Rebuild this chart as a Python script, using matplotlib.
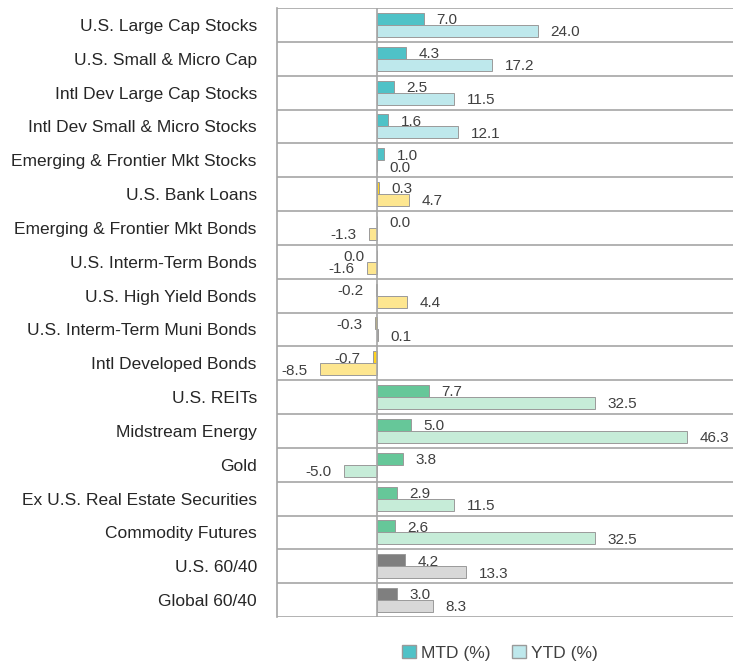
import numpy as np
import matplotlib
matplotlib.use("Agg")
import matplotlib.pyplot as plt
from matplotlib.patches import Patch

plt.rcParams['font.family'] = ['Liberation Sans', 'DejaVu Sans']

categories = [
    "U.S. Large Cap Stocks", "U.S. Small & Micro Cap", "Intl Dev Large Cap Stocks",
    "Intl Dev Small & Micro Stocks", "Emerging & Frontier Mkt Stocks", "U.S. Bank Loans",
    "Emerging & Frontier Mkt Bonds", "U.S. Interm-Term Bonds", "U.S. High Yield Bonds",
    "U.S. Interm-Term Muni Bonds", "Intl Developed Bonds", "U.S. REITs", "Midstream Energy",
    "Gold", "Ex U.S. Real Estate Securities", "Commodity Futures", "U.S. 60/40", "Global 60/40",
]
mtd = [7.0, 4.3, 2.5, 1.6, 1.0, 0.3, 0.0, -0.0, -0.2, -0.3, -0.7, 7.7, 5.0, 3.8, 2.9, 2.6, 4.2, 3.0]
ytd = [24.0, 17.2, 11.5, 12.1, 0.0, 4.7, -1.3, -1.6, 4.4, 0.1, -8.5, 32.5, 46.3, -5.0, 11.5, 32.5, 13.3, 8.3]
groups = ["eq"] * 5 + ["fi"] * 6 + ["real"] * 5 + ["bal"] * 2

# (MTD colour, YTD colour) per asset group
palette = {
    "eq": ("#4FC2C7", "#BEE8EC"),
    "fi": ("#FFD21F", "#FDE690"),
    "real": ("#66C799", "#C6ECD8"),
    "bal": ("#7F7F7F", "#D8D8D8"),
}

fig = plt.figure(figsize=(7.33, 6.67), dpi=100)
ax = fig.add_axes([277 / 733, 1 - 617 / 667, 1 - 277 / 733, 609 / 667])

y = np.arange(len(categories))
h = 0.355
off = 0.178
line_c = "#A6A6A6"

for i in range(len(categories)):
    c_m, c_y = palette[groups[i]]
    ax.barh(y[i] - off, mtd[i], height=h, color=c_m, edgecolor="#9A9A9A", linewidth=0.7, zorder=3)
    ax.barh(y[i] + off, ytd[i], height=h, color=c_y, edgecolor="#9A9A9A", linewidth=0.7, zorder=3)

# value labels, offset in points from bar end
for vals, dy in ((mtd, -off), (ytd, off)):
    for i, v in enumerate(vals):
        txt = f"{abs(v):.1f}" if v == 0 else f"{v:.1f}"
        neg = v < 0 or np.signbit(v)
        ax.annotate(txt, (v, y[i] + dy), xytext=(-9 if neg else 9, -1), textcoords="offset points",
                    ha="right" if neg else "left", va="center", fontsize=11, color="#404040", zorder=4)

for b in np.arange(-0.5, len(categories), 1.0):
    ax.axhline(b, color=line_c, linewidth=1.2, zorder=1)
ax.axvline(0, color=line_c, linewidth=1.2, zorder=5)

ax.set_xlim(-15, 53.2)
ax.set_ylim(len(categories) - 0.5, -0.5)
ax.set_yticks(y)
ax.set_yticklabels(categories, fontsize=12.5, color="#262626")
ax.tick_params(axis="y", length=0, pad=14.5)
ax.set_xticks([])
for s in ("top", "right", "bottom"):
    ax.spines[s].set_visible(False)
ax.spines["left"].set_color(line_c)
ax.spines["left"].set_linewidth(1.2)

handles = [Patch(facecolor=palette["eq"][0], edgecolor="#9A9A9A", label="MTD (%)"),
           Patch(facecolor=palette["eq"][1], edgecolor="#9A9A9A", label="YTD (%)")]
fig.legend(handles=handles, loc="center", bbox_to_anchor=(500 / 733, 1 - 653 / 667), ncol=2,
           frameon=False, fontsize=12.5, handlelength=0.8, handleheight=0.8, handletextpad=0.3,
           columnspacing=1.2, labelcolor="#404040")

fig.savefig("out.png", dpi=100)
